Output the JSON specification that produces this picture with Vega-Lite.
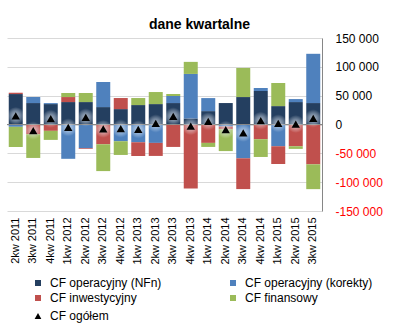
{
  "$schema": "https://vega.github.io/schema/vega-lite/v6.json",
  "autosize": "none",
  "width": 315,
  "height": 173,
  "padding": {"left": 7, "top": 38, "right": 76, "bottom": 119},
  "background": "white",
  "title": {"text": "dane kwartalne", "fontSize": 14, "fontWeight": "bold", "font": "Liberation Sans", "color": "black", "anchor": "middle", "frame": "group", "dx": 35, "offset": 0},
  "config": {
    "font": "Liberation Sans",
    "view": {"stroke": null},
    "axis": {"labelFont": "Liberation Sans", "labelColor": "black", "ticks": false, "title": null}
  },
  "datasets": {
    "bars": [
      {"q": "2kw 2011", "s": "CF operacyjny (NFn)", "n": 1, "v": 52800},
      {"q": "2kw 2011", "s": "CF operacyjny (korekty)", "n": 2, "v": -4000},
      {"q": "2kw 2011", "s": "CF inwestycyjny", "n": 3, "v": 2300},
      {"q": "2kw 2011", "s": "CF finansowy", "n": 4, "v": -35000},
      {"q": "3kw 2011", "s": "CF operacyjny (NFn)", "n": 1, "v": 37200},
      {"q": "3kw 2011", "s": "CF operacyjny (korekty)", "n": 2, "v": 10500},
      {"q": "3kw 2011", "s": "CF inwestycyjny", "n": 3, "v": -16800},
      {"q": "3kw 2011", "s": "CF finansowy", "n": 4, "v": -41200},
      {"q": "4kw 2011", "s": "CF operacyjny (NFn)", "n": 1, "v": 35400},
      {"q": "4kw 2011", "s": "CF operacyjny (korekty)", "n": 2, "v": 1700},
      {"q": "4kw 2011", "s": "CF inwestycyjny", "n": 3, "v": -11000},
      {"q": "4kw 2011", "s": "CF finansowy", "n": 4, "v": -15700},
      {"q": "1kw 2012", "s": "CF operacyjny (NFn)", "n": 1, "v": 38900},
      {"q": "1kw 2012", "s": "CF operacyjny (korekty)", "n": 2, "v": -59500},
      {"q": "1kw 2012", "s": "CF inwestycyjny", "n": 3, "v": 8700},
      {"q": "1kw 2012", "s": "CF finansowy", "n": 4, "v": 7000},
      {"q": "2kw 2012", "s": "CF operacyjny (NFn)", "n": 1, "v": 38900},
      {"q": "2kw 2012", "s": "CF operacyjny (korekty)", "n": 2, "v": -41200},
      {"q": "2kw 2012", "s": "CF inwestycyjny", "n": 3, "v": -1200},
      {"q": "2kw 2012", "s": "CF finansowy", "n": 4, "v": 15700},
      {"q": "3kw 2012", "s": "CF operacyjny (NFn)", "n": 1, "v": 30200},
      {"q": "3kw 2012", "s": "CF operacyjny (korekty)", "n": 2, "v": 43500},
      {"q": "3kw 2012", "s": "CF inwestycyjny", "n": 3, "v": -34300},
      {"q": "3kw 2012", "s": "CF finansowy", "n": 4, "v": -46500},
      {"q": "4kw 2012", "s": "CF operacyjny (NFn)", "n": 1, "v": 26700},
      {"q": "4kw 2012", "s": "CF operacyjny (korekty)", "n": 2, "v": -29000},
      {"q": "4kw 2012", "s": "CF inwestycyjny", "n": 3, "v": 19200},
      {"q": "4kw 2012", "s": "CF finansowy", "n": 4, "v": -23800},
      {"q": "1kw 2013", "s": "CF operacyjny (NFn)", "n": 1, "v": 33700},
      {"q": "1kw 2013", "s": "CF operacyjny (korekty)", "n": 2, "v": -30800},
      {"q": "1kw 2013", "s": "CF inwestycyjny", "n": 3, "v": -23800},
      {"q": "1kw 2013", "s": "CF finansowy", "n": 4, "v": 12200},
      {"q": "2kw 2013", "s": "CF operacyjny (NFn)", "n": 1, "v": 35400},
      {"q": "2kw 2013", "s": "CF operacyjny (korekty)", "n": 2, "v": -31900},
      {"q": "2kw 2013", "s": "CF inwestycyjny", "n": 3, "v": -22600},
      {"q": "2kw 2013", "s": "CF finansowy", "n": 4, "v": 20900},
      {"q": "3kw 2013", "s": "CF operacyjny (NFn)", "n": 1, "v": 37200},
      {"q": "3kw 2013", "s": "CF operacyjny (korekty)", "n": 2, "v": 12200},
      {"q": "3kw 2013", "s": "CF inwestycyjny", "n": 3, "v": -38900},
      {"q": "3kw 2013", "s": "CF finansowy", "n": 4, "v": 3500},
      {"q": "4kw 2013", "s": "CF operacyjny (NFn)", "n": 1, "v": 10500},
      {"q": "4kw 2013", "s": "CF operacyjny (korekty)", "n": 2, "v": 77200},
      {"q": "4kw 2013", "s": "CF inwestycyjny", "n": 3, "v": -110900},
      {"q": "4kw 2013", "s": "CF finansowy", "n": 4, "v": 20900},
      {"q": "1kw 2014", "s": "CF operacyjny (NFn)", "n": 1, "v": 23200},
      {"q": "1kw 2014", "s": "CF operacyjny (korekty)", "n": 2, "v": 22600},
      {"q": "1kw 2014", "s": "CF inwestycyjny", "n": 3, "v": -31900},
      {"q": "1kw 2014", "s": "CF finansowy", "n": 4, "v": -7000},
      {"q": "2kw 2014", "s": "CF operacyjny (NFn)", "n": 1, "v": 37200},
      {"q": "2kw 2014", "s": "CF operacyjny (korekty)", "n": 2, "v": -3500},
      {"q": "2kw 2014", "s": "CF inwestycyjny", "n": 3, "v": -4700},
      {"q": "2kw 2014", "s": "CF finansowy", "n": 4, "v": -37900},
      {"q": "3kw 2014", "s": "CF operacyjny (NFn)", "n": 1, "v": 47600},
      {"q": "3kw 2014", "s": "CF operacyjny (korekty)", "n": 2, "v": -58600},
      {"q": "3kw 2014", "s": "CF inwestycyjny", "n": 3, "v": -53400},
      {"q": "3kw 2014", "s": "CF finansowy", "n": 4, "v": 50500},
      {"q": "4kw 2014", "s": "CF operacyjny (NFn)", "n": 1, "v": 58100},
      {"q": "4kw 2014", "s": "CF operacyjny (korekty)", "n": 2, "v": 5200},
      {"q": "4kw 2014", "s": "CF inwestycyjny", "n": 3, "v": -25500},
      {"q": "4kw 2014", "s": "CF finansowy", "n": 4, "v": -30800},
      {"q": "1kw 2015", "s": "CF operacyjny (NFn)", "n": 1, "v": 31900},
      {"q": "1kw 2015", "s": "CF operacyjny (korekty)", "n": 2, "v": -37700},
      {"q": "1kw 2015", "s": "CF inwestycyjny", "n": 3, "v": -30800},
      {"q": "1kw 2015", "s": "CF finansowy", "n": 4, "v": 40100},
      {"q": "2kw 2015", "s": "CF operacyjny (NFn)", "n": 1, "v": 38900},
      {"q": "2kw 2015", "s": "CF operacyjny (korekty)", "n": 2, "v": 5200},
      {"q": "2kw 2015", "s": "CF inwestycyjny", "n": 3, "v": -37700},
      {"q": "2kw 2015", "s": "CF finansowy", "n": 4, "v": -4600},
      {"q": "3kw 2015", "s": "CF operacyjny (NFn)", "n": 1, "v": 37200},
      {"q": "3kw 2015", "s": "CF operacyjny (korekty)", "n": 2, "v": 85400},
      {"q": "3kw 2015", "s": "CF inwestycyjny", "n": 3, "v": -69100},
      {"q": "3kw 2015", "s": "CF finansowy", "n": 4, "v": -43000}
    ],
    "totals": [
      {"q": "2kw 2011", "s": "CF ogółem", "v": 15000},
      {"q": "3kw 2011", "s": "CF ogółem", "v": -10500},
      {"q": "4kw 2011", "s": "CF ogółem", "v": 10000},
      {"q": "1kw 2012", "s": "CF ogółem", "v": -5000},
      {"q": "2kw 2012", "s": "CF ogółem", "v": 12200},
      {"q": "3kw 2012", "s": "CF ogółem", "v": -7500},
      {"q": "4kw 2012", "s": "CF ogółem", "v": -7000},
      {"q": "1kw 2013", "s": "CF ogółem", "v": -8500},
      {"q": "2kw 2013", "s": "CF ogółem", "v": 1800},
      {"q": "3kw 2013", "s": "CF ogółem", "v": 14000},
      {"q": "4kw 2013", "s": "CF ogółem", "v": -3000},
      {"q": "1kw 2014", "s": "CF ogółem", "v": 5500},
      {"q": "2kw 2014", "s": "CF ogółem", "v": -9000},
      {"q": "3kw 2014", "s": "CF ogółem", "v": -14500},
      {"q": "4kw 2014", "s": "CF ogółem", "v": 6700},
      {"q": "1kw 2015", "s": "CF ogółem", "v": 2000},
      {"q": "2kw 2015", "s": "CF ogółem", "v": 800},
      {"q": "3kw 2015", "s": "CF ogółem", "v": 10500}
    ],
    "zero": [{"v": 0}]
  },
  "encoding": {
    "x": {
      "field": "q", "type": "nominal", "sort": null,
      "scale": {"paddingInner": 0.2, "paddingOuter": 0.1},
      "axis": {"labelAngle": 270, "labelFontSize": 11, "labelPadding": 6, "domain": false, "grid": false}
    },
    "y": {
      "field": "v", "type": "quantitative",
      "scale": {"domain": [-150000, 150000], "nice": false},
      "axis": {
        "orient": "right", "values": [-150000, -100000, -50000, 0, 50000, 100000, 150000],
        "labelExpr": "replace(replace(format(datum.value, ','), /,/g, ' '), '−', '-')",
        "labelFontSize": 12, "labelAlign": "left", "labelPadding": 13, "labelOverlap": false, "labelFlush": false,
        "labelColor": {"condition": {"test": "datum.value < 0", "value": "#FF0000"}, "value": "black"},
        "domain": true, "domainColor": "#868686", "grid": true, "gridColor": "#D9D9D9"
      }
    }
  },
  "layer": [
    {
      "data": {"name": "bars"},
      "mark": {"type": "bar"},
      "encoding": {
        "color": {
          "field": "s", "type": "nominal",
          "scale": {
            "domain": ["CF operacyjny (NFn)", "CF operacyjny (korekty)", "CF inwestycyjny", "CF finansowy"],
            "range": ["#243F60", "#4F81BD", "#C0504D", "#9BBB59"]
          },
          "legend": {
            "title": null, "orient": "none", "legendX": 25, "legendY": 239, "direction": "horizontal",
            "columns": 2, "columnPadding": 65, "rowPadding": 3,
            "symbolType": "square", "symbolSize": 36, "symbolStrokeWidth": 0,
            "labelFontSize": 12, "labelColor": "black", "labelOffset": 6, "labelLimit": 200
          }
        },
        "order": {"field": "n", "type": "quantitative", "sort": "ascending"}
      }
    },
    {
      "data": {"name": "zero"},
      "mark": {"type": "rule", "color": "#868686", "strokeWidth": 1},
      "encoding": {"x": null}
    },
    {
      "data": {"name": "totals"},
      "mark": {
        "type": "point", "shape": "circle", "filled": true, "size": 320, "strokeWidth": 0,
        "fill": {"gradient": "radial", "stops": [{"offset": 0, "color": "rgba(255,255,255,0.95)"}, {"offset": 0.5, "color": "rgba(230,238,248,0.6)"}, {"offset": 1, "color": "rgba(255,255,255,0)"}]}
      },
      "encoding": {}
    },
    {
      "data": {"name": "totals"},
      "mark": {"type": "point", "filled": true, "size": 70, "opacity": 1},
      "encoding": {
        "shape": {
          "field": "s", "type": "nominal",
          "scale": {"domain": ["CF ogółem"], "range": ["triangle-up"]},
          "legend": {
            "title": null, "orient": "none", "legendX": 25, "legendY": 272,
            "symbolSize": 45, "symbolFillColor": "black", "symbolStrokeWidth": 0,
            "labelFontSize": 12, "labelColor": "black", "labelOffset": 6
          }
        },
        "color": {"value": "black"}
      }
    }
  ]
}
